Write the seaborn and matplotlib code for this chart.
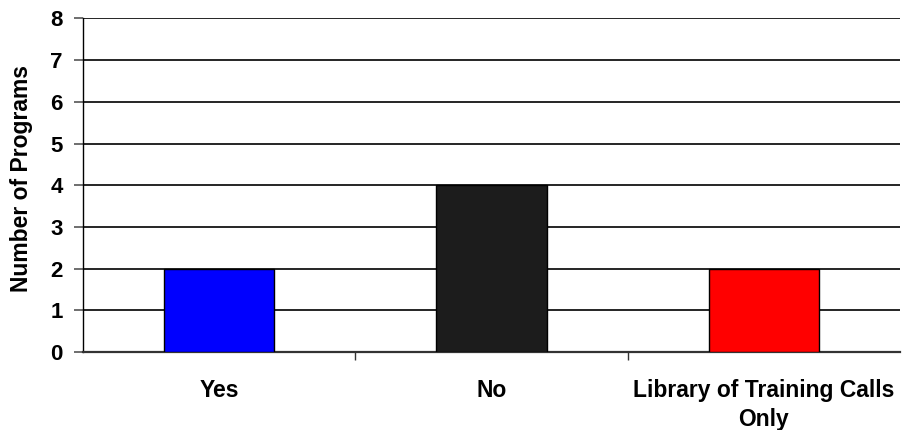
import matplotlib
matplotlib.use("Agg")
import matplotlib.pyplot as plt
import seaborn as sns
import pandas as pd

categories = ["Yes", "No", "Library of Training Calls\nOnly"]
programs = [2, 4, 2]
bar_colors = ["#0000FF", "#1C1C1C", "#FF0000"]

sns.set_theme(style="white")
plt.rcParams["font.family"] = ["Liberation Sans", "DejaVu Sans"]
plt.rcParams["font.weight"] = "bold"
plt.rcParams["text.color"] = "black"
plt.rcParams["xtick.color"] = "black"
plt.rcParams["ytick.color"] = "black"
plt.rcParams["axes.labelcolor"] = "black"

df = pd.DataFrame({"category": categories, "programs": programs})

fig = plt.figure(figsize=(9.02, 4.30), dpi=100)
ax = fig.add_axes([0.092, 0.181, 0.906, 0.776])

sns.barplot(data=df, x="category", y="programs", hue="category",
            palette=bar_colors, saturation=1, width=0.405, edgecolor="black",
            linewidth=1.0, legend=False, ax=ax, zorder=3)

ax.set_xlim(-0.5, 2.5)
ax.set_ylim(0, 8)
ax.set_yticks(range(0, 9))
ax.yaxis.grid(True, color="black", linewidth=1.2, zorder=0)
ax.set_axisbelow(True)

for side in ["top", "right"]:
    ax.spines[side].set_visible(False)
ax.spines["left"].set_color("black")
ax.spines["left"].set_linewidth(1.0)
ax.spines["bottom"].set_color("#333333")
ax.spines["bottom"].set_linewidth(1.6)

ax.tick_params(axis="y", which="major", left=True, length=6.5, width=1.2,
               color="#555555", pad=8, labelsize=16)
ax.tick_params(axis="x", which="major", bottom=False, pad=13.5, labelsize=16.5)
ax.set_xticks([0.5, 1.5], minor=True)
ax.tick_params(axis="x", which="minor", bottom=True, length=6, width=1.0,
               color="#333333")

for lbl in ax.get_xticklabels():
    lbl.set_fontweight("bold")
    lbl.set_linespacing(1.3)
for lbl in ax.get_yticklabels():
    lbl.set_fontweight("bold")

ax.set_xlabel("")
ax.set_ylabel("Number of Programs", fontsize=16.5, fontweight="bold")
ax.yaxis.set_label_coords(-0.061, 0.52)

fig.savefig("out.png", dpi=100)
